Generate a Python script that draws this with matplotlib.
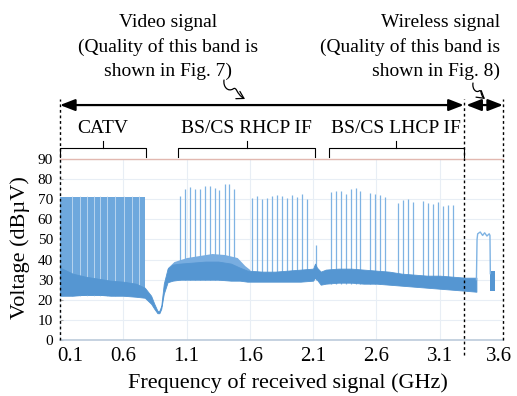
import matplotlib
matplotlib.use("Agg")
import matplotlib.pyplot as plt
from matplotlib.patches import FancyArrowPatch
from matplotlib.path import Path
from matplotlib.transforms import ScaledTranslation

plt.rcParams["font.family"] = ["Liberation Serif", "DejaVu Serif"]

W, H = 517, 396

# ---- data ----
# noise floor envelope (GHz, dBuV)
noise_freq = [0.10, 0.20, 0.30, 0.40, 0.50, 0.60, 0.70, 0.77, 0.82, 0.845, 0.87, 0.885,
              0.90, 0.92, 0.95, 0.99, 1.05, 1.15, 1.25, 1.35, 1.45, 1.52, 1.58, 1.70,
              1.80, 1.90, 2.00, 2.10, 2.115, 2.13, 2.16, 2.20, 2.30, 2.40, 2.50, 2.60,
              2.70, 2.80, 2.90, 3.00, 3.10, 3.20, 3.30, 3.39]
noise_low = [22, 22, 22.5, 22.5, 22, 22, 21.5, 21, 18, 15.5, 13.3, 13.3,
             15.5, 23, 28.7, 29.5, 30, 30, 30, 30, 29.5, 29.5, 29, 29,
             29, 29, 29, 29.5, 31, 30, 27.5, 28, 28.5, 28.5, 28, 28,
             27.5, 27, 26.5, 26, 25.5, 25, 24.5, 24]
noise_high = [36, 33, 31.5, 30.5, 29.5, 29, 28, 26, 22, 18, 14.5, 14.5,
              17, 28, 35.5, 37.5, 38, 38.5, 39, 39, 38, 36, 34.5, 34,
              34, 34.5, 35, 35.5, 38, 36, 34, 35, 35.5, 35.5, 35, 34.5,
              34, 33, 32.5, 32, 32, 31.5, 31, 31]

# lighter ripple on top of the noise in the 1.0-1.6 GHz hump
hump_freq = [0.95, 1.00, 1.10, 1.20, 1.30, 1.40, 1.50, 1.56, 1.60]
hump_peak = [36, 39, 41, 42, 43, 42.5, 41, 37, 35]

# CATV channel block
catv_start, catv_stop, catv_level = 0.10, 0.775, 71
catv_gaps = [0.192, 0.257, 0.314, 0.367, 0.414, 0.471, 0.531, 0.602, 0.670, 0.727]

# BS/CS carriers
rhcp_freqs = [1.051, 1.088, 1.127, 1.167, 1.206, 1.245, 1.282, 1.321, 1.360, 1.400,
              1.436, 1.475, 1.616, 1.655, 1.695, 1.734, 1.773, 1.812, 1.851, 1.891,
              1.933, 1.972, 2.011, 2.050]
rhcp_levels = [71.5, 75, 76, 75, 75, 76.5, 76.7, 75.7, 74.5, 77.5,
               77.5, 75, 70.7, 71.5, 70, 70.5, 71.8, 72.2, 71.8, 70.8,
               72.2, 71.2, 72.8, 70]
lhcp_freqs = [2.244, 2.278, 2.317, 2.357, 2.396, 2.435, 2.474, 2.553, 2.592, 2.631,
              2.667, 2.772, 2.811, 2.851, 2.890, 2.968, 3.008, 3.047, 3.086, 3.127,
              3.167, 3.206]
lhcp_levels = [73.7, 74.2, 74.2, 72.5, 75, 75.5, 74.2, 73.2, 72.8, 72.3,
               71.2, 68.3, 69.5, 70, 68.7, 69.2, 68.3, 67.8, 68.7, 66.7,
               67.3, 67.3]
other_freqs = [2.12]
other_levels = [47]

# wireless signal
wl_freq = [3.39, 3.395, 3.400, 3.420, 3.439, 3.455, 3.473, 3.491, 3.497, 3.500]
wl_level = [30, 50, 52.8, 53.7, 52, 53.3, 51.7, 52.8, 52, 33]
tail_freq = [3.497, 3.535]
tail_low = [24.5, 24.5]
tail_high = [34.5, 34.5]

x_ticks = [0.1, 0.6, 1.1, 1.6, 2.1, 2.6, 3.1, 3.6]
y_ticks = [0, 10, 20, 30, 40, 50, 60, 70, 80, 90]

video_lines = ["Video signal", "(Quality of this band is", "shown in Fig. 7)"]
wireless_lines = ["Wireless signal", "(Quality of this band is", "shown in Fig. 8)"]

video_end = 3.29

CORE = "#5596d2"
LIGHT = "#7fb3e3"

fig = plt.figure(figsize=(W / 100, H / 100), dpi=100)
ax = fig.add_axes([60 / W, (H - 340) / H, 443 / W, 181 / H])

# CATV block with a few empty channels
ax.fill_between([catv_start, catv_stop], 22, catv_level, color="#6ea8dd", lw=0, zorder=2)
ax.vlines(catv_gaps, 22, catv_level + 0.5, color="#c2dbf2", lw=0.6, zorder=2.5)

# carriers
ax.vlines(rhcp_freqs, 30, rhcp_levels, color=LIGHT, lw=0.9, zorder=2)
ax.vlines(lhcp_freqs, 28, lhcp_levels, color=LIGHT, lw=0.9, zorder=2)
ax.vlines(other_freqs, 30, other_levels, color=LIGHT, lw=0.9, zorder=2)

# noise floor
ax.fill_between(hump_freq, 30, hump_peak, color="#78ade0", lw=0, zorder=3)
ax.fill_between(noise_freq, noise_low, noise_high, color=CORE, lw=0.6,
                edgecolor=CORE, zorder=4)
ax.fill_between(tail_freq, tail_low, tail_high, color=CORE, lw=0, zorder=4)
ax.plot(wl_freq, wl_level, color=LIGHT, lw=1.0, zorder=4)

ax.set_xlim(0.1, 3.6)
ax.set_ylim(0, 90)
ax.set_xticks(x_ticks)
ax.set_yticks(y_ticks)
ax.tick_params(axis="x", length=0, pad=5, labelsize=15)
ax.tick_params(axis="y", length=2, direction="in", color="#aaaaaa", pad=5, labelsize=11)
ax.grid(color="#e8eef5", lw=0.8, zorder=0)
ax.set_axisbelow(True)

# first and last x labels sit clear of the dashed lines
xlabels = ax.get_xticklabels()
xlabels[0].set_transform(xlabels[0].get_transform() + ScaledTranslation(10 / 100, 0, fig.dpi_scale_trans))
xlabels[-1].set_transform(xlabels[-1].get_transform() + ScaledTranslation(-4 / 100, 0, fig.dpi_scale_trans))

for side in ("left", "right"):
    ax.spines[side].set_visible(False)
ax.spines["top"].set_color("#e2b8b0")
ax.spines["top"].set_linewidth(1.0)
ax.spines["bottom"].set_color("#bccbdb")
ax.spines["bottom"].set_linewidth(1.2)

ax.set_xlabel("Frequency of received signal (GHz)", fontsize=16)
ax.xaxis.set_label_coords(0.515, -0.237)
ax.xaxis.label.set_va("center")
ax.set_ylabel("Voltage (dBµV)", fontsize=16)
ax.yaxis.set_label_coords(-0.09, 0.51)
ax.yaxis.label.set_va("center")

# dashed band boundaries
xt = ax.get_xaxis_transform()
dash = dict(color="black", lw=1.0, ls=(0, (2, 2)), transform=xt, clip_on=False, zorder=6)
ax.plot([0.1, 0.1], [0, 1.33], **dash)
ax.plot([video_end, video_end], [-0.085, 1.33], **dash)
ax.plot([3.6, 3.6], [0, 1.33], **dash)

# double arrows
arr = dict(arrowstyle="<|-|>,head_length=0.9,head_width=0.35", color="black",
           lw=1.6, shrinkA=0, shrinkB=0, mutation_scale=10)
ax.annotate("", xy=(0.1, 1.298), xytext=(video_end, 1.298), xycoords=xt,
            textcoords=xt, arrowprops=arr, annotation_clip=False)
ax.annotate("", xy=(video_end + 0.02, 1.298), xytext=(3.6, 1.298), xycoords=xt,
            textcoords=xt, arrowprops=arr, annotation_clip=False)

# brackets
brackets = [(0.10, 0.782, "CATV"), (1.033, 2.116, "BS/CS RHCP IF"), (2.225, 3.29, "BS/CS LHCP IF")]
for a, b, name in brackets:
    c = (a + b) / 2
    ax.plot([a, a, b, b], [1.011, 1.061, 1.061, 1.011], color="black", lw=0.8,
            transform=xt, clip_on=False)
    ax.plot([c, c], [1.061, 1.10], color="black", lw=0.8, transform=xt, clip_on=False)
    ax.text(c, 1.171, name, transform=xt, ha="center", va="center", fontsize=14)

# top texts, one line at a time (pixel baselines)
for y_px, a, b in zip([27, 52, 76], video_lines, wireless_lines):
    fig.text(168 / W, 1 - y_px / H, a, ha="center", va="baseline", fontsize=14)
    fig.text(500 / W, 1 - y_px / H, b, ha="right", va="baseline", fontsize=14)


def squiggle(pts):
    verts = [(x / W, 1 - y / H) for x, y in pts]
    codes = [Path.MOVETO] + [Path.CURVE4] * (len(verts) - 1)
    p = FancyArrowPatch(path=Path(verts, codes), arrowstyle="->,head_length=0.5,head_width=0.3",
                        mutation_scale=10, lw=0.9, color="black", transform=fig.transFigure)
    fig.patches.append(p)


squiggle([(224, 80), (223, 87), (228, 92), (233, 89), (237, 86), (236, 94), (245, 99)])
squiggle([(473, 83), (472, 89), (476, 93), (479, 91), (482, 89), (480, 95), (485, 99)])

fig.savefig("out.png", dpi=100)
